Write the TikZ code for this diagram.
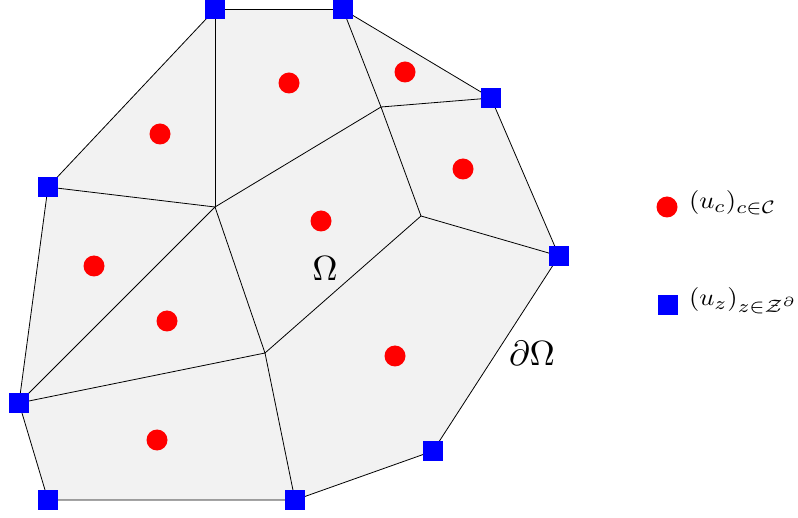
\RequirePackage{fix-cm}
\documentclass[tikz,border=0pt]{standalone}
\DeclareMathSizes{10}{10}{7.5}{5.5}
\begin{document}
\begin{tikzpicture}[x=1pt,y=-1pt,
  edge/.style={draw=black,line width=0.8pt},
  bnd/.style={rectangle,fill=blue,minimum size=20pt,inner sep=0pt,outer sep=0pt},
  cel/.style={circle,fill=red,minimum size=21pt,inner sep=0pt,outer sep=0pt},
  lbl/.style={inner sep=0pt,outer sep=0pt}]
\useasboundingbox (0,0) rectangle (798,518);
% boundary vertices
\coordinate (A) at (215,9.5);
\coordinate (B) at (343,9.5);
\coordinate (C) at (491,98);
\coordinate (D) at (559,256);
\coordinate (E) at (433,451);
\coordinate (F) at (295,500);
\coordinate (G) at (48,500);
\coordinate (H) at (19,403);
\coordinate (I) at (48,187);
% interior vertices
\coordinate (J) at (215,207);
\coordinate (K) at (381,107);
\coordinate (L) at (421,216);
\coordinate (M) at (265,353);
% domain
\fill[fill={rgb,255:red,242;green,242;blue,242}] (A)--(B)--(C)--(D)--(E)--(F)--(G)--(H)--(I)--cycle;
\draw[edge] (A)--(B)--(C)--(D)--(E)--(F)--(G)--(H)--(I)--cycle;
% interior edges
\draw[edge] (A)--(J);
\draw[edge] (B)--(K);
\draw[edge] (K)--(C);
\draw[edge] (K)--(L);
\draw[edge] (L)--(D);
\draw[edge] (I)--(J);
\draw[edge] (J)--(K);
\draw[edge] (J)--(H);
\draw[edge] (J)--(M);
\draw[edge] (M)--(L);
\draw[edge] (H)--(M);
\draw[edge] (M)--(F);
% boundary unknowns
\foreach \v in {A,B,C,D,E,F,G,H,I} \node[bnd] (s\v) at (\v) {};
% cell unknowns
\node[cel] (c1) at (160,134) {};
\node[cel] (c2) at (289,83) {};
\node[cel] (c3) at (321,221) {};
\node[cel] (c4) at (405,72) {};
\node[cel] (c5) at (463,169) {};
\node[cel] (c6) at (94,266) {};
\node[cel] (c7) at (167,321) {};
\node[cel] (c8) at (395,356) {};
\node[cel] (c9) at (157,440) {};
% labels
\node[lbl] (om) at (325,269) {\scalebox{3.5}{$\Omega$}};
\node[lbl] (dom) at (532,353) {\scalebox{3.5}{$\partial\Omega$}};
% legend
\node[cel] (lc) at (667,207) {};
\node[bnd] (lz) at (668,305) {};
\node[lbl,anchor=base west] (tc) at (689,209) {\scalebox{2.65}[2.4]{$(u_c)_{c\in\mathcal{C}}$}};
\node[lbl,anchor=base west] (tz) at (689,306) {\scalebox{2.65}[2.4]{$(u_z)_{z\in\mathcal{Z}^\partial}$}};
\end{tikzpicture}
\end{document}
